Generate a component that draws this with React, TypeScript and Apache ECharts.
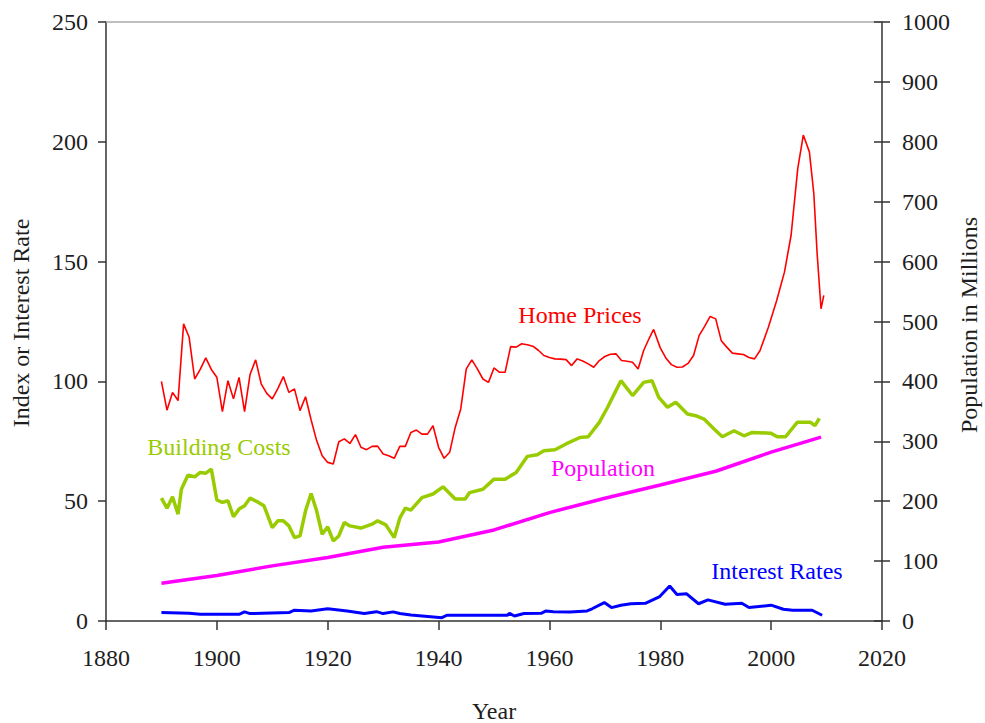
import React, { useEffect, useRef } from "react";
import * as echarts from "echarts";

const FONT = '"Liberation Serif", "Times New Roman", Times, "DejaVu Serif", serif';
const FS = 24;

const xTicks = [1880, 1900, 1920, 1940, 1960, 1980, 2000, 2020];
const leftTicks = [0, 50, 100, 150, 200, 250];
const rightTicks = [0, 100, 200, 300, 400, 500, 600, 700, 800, 900, 1000];

const homePrices: [number, number][] = [
  [1890, 100], [1891, 88], [1892, 95.4], [1893, 92], [1894, 124], [1895, 118.4], [1896, 101],
  [1897, 105], [1898, 109.8], [1899, 105], [1900, 101.7], [1901, 87.4], [1902, 100.3],
  [1903, 92.7], [1904, 101.7], [1905, 87.4], [1906, 103], [1907, 109], [1908, 99], [1909, 95],
  [1910, 92.7], [1911, 97], [1912, 102], [1913, 95.4], [1914, 96.9], [1915, 87.8], [1916, 93.6],
  [1917, 84], [1918, 75.3], [1919, 69], [1920, 66.2], [1921, 65.5], [1922, 74.8], [1923, 76],
  [1924, 74.1], [1925, 77.8], [1926, 72.5], [1927, 71.5], [1928, 72.9], [1929, 73], [1930, 69.7],
  [1931, 69], [1932, 67.9], [1933, 72.9], [1934, 72.9], [1935, 78.7], [1936, 79.7], [1937, 78],
  [1938, 78], [1939, 81.5], [1940, 72.5], [1941, 67.9], [1942, 70.4], [1943, 80.8], [1944, 88.5],
  [1945, 105.2], [1946, 109], [1947, 105.2], [1948, 101], [1949, 99.6], [1950, 105.6],
  [1951, 103.8], [1952, 103.8], [1953, 114.5], [1954, 114.3], [1955, 115.7], [1956, 115.3],
  [1957, 114.7], [1958, 113], [1959, 110.8], [1960, 110], [1961, 109.4], [1962, 109.3],
  [1963, 109.1], [1964, 106.6], [1965, 109.4], [1966, 108.5], [1967, 107.3], [1968, 105.9],
  [1969, 108.7], [1970, 110.4], [1971, 111.3], [1972, 111.5], [1973, 108.7], [1974, 108.4],
  [1975, 108], [1976, 105.2], [1977, 112.9], [1978, 118], [1978.8, 121.7], [1980, 114],
  [1981, 109.8], [1982, 107], [1983, 105.9], [1984, 106], [1985, 107.5], [1986, 110.8],
  [1987, 119.1], [1988, 123], [1989, 127.1], [1990, 126.1], [1991, 117], [1992, 114.3],
  [1993, 111.8], [1994, 111.5], [1995, 111.2], [1996, 110], [1997, 109.4], [1998, 112.9],
  [1999.5, 122.6], [2001, 133.8], [2002.4, 145.6], [2003.6, 161], [2004.8, 188.8],
  [2005.8, 202.8], [2006.9, 195.8], [2007.7, 178.4], [2008.3, 153.3], [2009, 130.3],
  [2009.5, 135.9],
];

const buildingCosts: [number, number][] = [
  [1890, 51.3], [1891, 47.1], [1892, 51.8], [1893, 44.6], [1893.6, 55], [1894.8, 60.9],
  [1896, 60.2], [1897, 62], [1898, 61.7], [1899, 63.4], [1900, 50.5], [1901, 49.5], [1902, 50.2],
  [1903, 43.5], [1904, 46.7], [1905, 48.1], [1906, 51.3], [1907.5, 49.5], [1908.5, 48.1],
  [1910, 39], [1911, 41.8], [1912, 41.8], [1913, 39.7], [1914, 34.8], [1915, 35.5], [1916, 46],
  [1917, 53.2], [1918, 46], [1919, 36.2], [1920, 39.3], [1921, 33.4], [1922, 35.5], [1923, 41.1],
  [1924, 39.7], [1926, 38.8], [1928, 40.4], [1929, 41.8], [1930.5, 40.1], [1932, 34.8],
  [1933, 42.9], [1934, 47.1], [1935, 46.3], [1937, 51.5], [1939, 53], [1940.8, 56], [1943, 50.9],
  [1944.8, 50.9], [1945.6, 53.6], [1948, 55], [1950, 59.2], [1952, 59.2], [1954, 62],
  [1956, 68.7], [1957.8, 69.4], [1959, 71.1], [1961, 71.5], [1963, 73.9], [1965.5, 76.6],
  [1967, 76.9], [1969, 82.9], [1970.5, 89.2], [1971.7, 94.8], [1972.9, 100.3], [1975, 94.1],
  [1977, 99.6], [1978.5, 100.3], [1979.7, 93.4], [1981.3, 89.2], [1982.8, 91.3], [1984.9, 86.4],
  [1986.4, 85.7], [1987.9, 84.3], [1989.7, 80.1], [1991.2, 76.9], [1993.3, 79.4], [1995.1, 77.3],
  [1996.6, 78.7], [1999.9, 78.4], [2001.1, 76.9], [2002.6, 76.9], [2004.7, 82.9], [2007.1, 82.9],
  [2007.9, 81.5], [2008.7, 84.6],
];

const population: [number, number][] = [
  [1890, 63], [1900, 76], [1910, 92], [1920, 106], [1930, 123], [1940, 132], [1950, 152],
  [1960, 181], [1970, 205], [1980, 227], [1990, 250], [2000, 282], [2009, 307],
];

const interestRates: [number, number][] = [
  [1890, 3.5], [1895, 3.2], [1897, 2.8], [1904, 2.8], [1905, 3.8], [1906, 3.1], [1913, 3.5],
  [1914, 4.5], [1917, 4.2], [1920, 5.1], [1923.5, 4.2], [1926.6, 3.1], [1928.8, 3.9], [1930, 3.1],
  [1931.8, 3.8], [1933, 3.1], [1935, 2.5], [1940.6, 1.4], [1941.5, 2.4], [1952.4, 2.4],
  [1952.8, 3.2], [1953.7, 2.1], [1955.4, 3.1], [1958.5, 3.2], [1959.4, 4.2], [1960.7, 3.9],
  [1963.7, 3.8], [1966.8, 4.2], [1967.7, 5.1], [1969.9, 7.7], [1971.2, 5.6], [1972.9, 6.6],
  [1974.7, 7.2], [1977.3, 7.4], [1979.9, 10.2], [1981.7, 14.6], [1983, 11.1], [1984.7, 11.4],
  [1986.9, 7.2], [1988.6, 8.8], [1991.7, 7], [1994.7, 7.4], [1996, 5.6], [2000, 6.6],
  [2002.2, 4.9], [2003.9, 4.5], [2007.4, 4.5], [2009.2, 2.4],
];

const AXIS_COLOR = "#333";
const LABEL_COLOR = "#1e1e1e";

export default function App() {
  const ref = useRef<HTMLDivElement>(null);
  useEffect(() => {
    if (!ref.current) return;
    const chart = echarts.init(ref.current, null, { renderer: "svg" });
    const plain = (v: number) => String(v);
    const labelStyle = { color: LABEL_COLOR, fontFamily: FONT, fontSize: FS, formatter: plain };
    const textStyle = (text: string, fill: string) => ({
      text,
      fill,
      fontFamily: FONT,
      fontSize: FS,
      align: "center",
      verticalAlign: "middle",
    });
    chart.setOption({
      animation: false,
      backgroundColor: "#fff",
      textStyle: { fontFamily: FONT },
      grid: { left: 106, right: 103, top: 22, bottom: 102, containLabel: false },
      xAxis: [
        {
          type: "value",
          min: xTicks[0],
          max: xTicks[xTicks.length - 1],
          interval: 20,
          position: "bottom",
          splitLine: { show: false },
          axisLine: { show: true, onZero: false, lineStyle: { color: AXIS_COLOR, width: 1.5 } },
          axisTick: { show: true, length: 9, lineStyle: { color: AXIS_COLOR, width: 1.5 } },
          axisLabel: { ...labelStyle, margin: 25 },
        },
        {
          type: "value",
          min: xTicks[0],
          max: xTicks[xTicks.length - 1],
          position: "top",
          splitLine: { show: false },
          axisLine: { show: true, onZero: false, lineStyle: { color: "#aaa", width: 1.5 } },
          axisTick: { show: false },
          axisLabel: { show: false },
        },
      ],
      yAxis: [
        {
          type: "value",
          min: leftTicks[0],
          max: leftTicks[leftTicks.length - 1],
          interval: 50,
          position: "left",
          splitLine: { show: false },
          axisLine: { show: true, onZero: false, lineStyle: { color: AXIS_COLOR, width: 1.5 } },
          axisTick: { show: true, length: 8, lineStyle: { color: AXIS_COLOR, width: 1.5 } },
          axisLabel: { ...labelStyle, margin: 18 },
        },
        {
          type: "value",
          min: rightTicks[0],
          max: rightTicks[rightTicks.length - 1],
          interval: 100,
          position: "right",
          splitLine: { show: false },
          axisLine: { show: true, onZero: false, lineStyle: { color: AXIS_COLOR, width: 1.5 } },
          axisTick: { show: true, length: 8, lineStyle: { color: AXIS_COLOR, width: 1.5 } },
          axisLabel: { ...labelStyle, margin: 20 },
        },
        {
          type: "value",
          min: rightTicks[0],
          max: rightTicks[rightTicks.length - 1],
          interval: 100,
          position: "right",
          splitLine: { show: false },
          axisLine: { show: false },
          axisTick: { show: true, inside: true, length: 8, lineStyle: { color: AXIS_COLOR, width: 1.5 } },
          axisLabel: { show: false },
        },
      ],
      series: [
        {
          name: "Home Prices",
          type: "line",
          data: homePrices,
          xAxisIndex: 0,
          yAxisIndex: 0,
          showSymbol: false,
          lineStyle: { color: "#ff0000", width: 1.6 },
          itemStyle: { color: "#ff0000" },
        },
        {
          name: "Building Costs",
          type: "line",
          data: buildingCosts,
          xAxisIndex: 0,
          yAxisIndex: 0,
          showSymbol: false,
          lineStyle: { color: "#99cc00", width: 3.5 },
          itemStyle: { color: "#99cc00" },
        },
        {
          name: "Population",
          type: "line",
          data: population,
          xAxisIndex: 0,
          yAxisIndex: 1,
          showSymbol: false,
          lineStyle: { color: "#ff00ff", width: 3.5 },
          itemStyle: { color: "#ff00ff" },
        },
        {
          name: "Interest Rates",
          type: "line",
          data: interestRates,
          xAxisIndex: 0,
          yAxisIndex: 0,
          showSymbol: false,
          lineStyle: { color: "#0000ff", width: 3 },
          itemStyle: { color: "#0000ff" },
        },
      ],
      graphic: [
        { type: "text", x: 21, y: 323, rotation: Math.PI / 2, style: textStyle("Index or Interest Rate", LABEL_COLOR) },
        { type: "text", x: 969, y: 325, rotation: Math.PI / 2, style: textStyle("Population in Millions", LABEL_COLOR) },
        { type: "text", x: 494, y: 711, style: textStyle("Year", LABEL_COLOR) },
        { type: "text", x: 580, y: 315, style: textStyle("Home Prices", "#ff0000") },
        { type: "text", x: 219, y: 447, style: textStyle("Building Costs", "#99cc00") },
        { type: "text", x: 603, y: 468, style: textStyle("Population", "#ff00ff") },
        { type: "text", x: 777, y: 571, style: textStyle("Interest Rates", "#0000ff") },
      ],
    });
    return () => chart.dispose();
  }, []);
  return (
    <div
      ref={ref}
      style={{ position: "fixed", left: 0, top: 0, width: 985, height: 723, background: "#fff" }}
    />
  );
}
